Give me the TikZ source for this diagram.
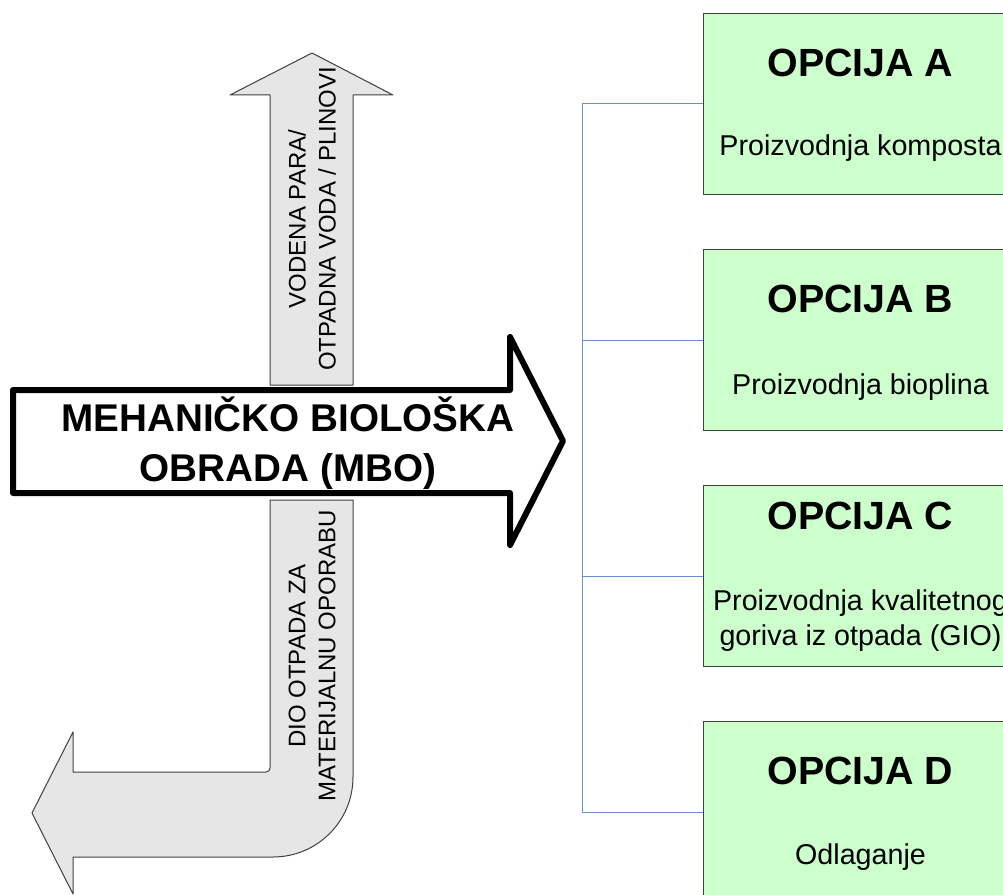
\documentclass[tikz,border=0pt]{standalone}
\usepackage{fontspec}
\setmainfont{Liberation Sans}
\usetikzlibrary{positioning}
\definecolor{boxgreen}{HTML}{CCFFCC}
\definecolor{arrowgray}{HTML}{E6E6E6}
\definecolor{linkblue}{HTML}{6A8FD2}

\tikzset{
  option/.style={draw=black!75, fill=boxgreen, line width=0.75pt, minimum width=235.5pt, minimum height=135.75pt, anchor=north west, inner sep=0pt},
  optitle/.style={font=\fontsize{29.5}{34}\selectfont\bfseries},
  optext/.style={font=\fontsize{21.5}{26.25}\selectfont, align=center},
  side/.style={draw=black!75, fill=arrowgray, line width=0.75pt, line join=round},
  sidetext/.style={font=\fontsize{18}{22.5}\selectfont, align=center, rotate=90},
  bus/.style={draw=linkblue, line width=0.75pt}
}

\begin{document}
\begin{tikzpicture}[x=0.75pt, y=-0.75pt]
\useasboundingbox (0,0) rectangle (1003,895);
% options on the right
\node[option] (optA) at (703,13) {};
\node[option] (optB) at (703,249) {};
\node[option] (optC) at (703,485) {};
\node[option] (optD) at (703,721) {};
\node[optitle] (titA) at ([yshift=31pt]optA.center) {OPCIJA A};
\node[optitle] (titB) at ([yshift=31pt]optB.center) {OPCIJA B};
\node[optitle] (titC) at ([yshift=45pt]optC.center) {OPCIJA C};
\node[optitle] (titD) at ([yshift=31pt]optD.center) {OPCIJA D};
\node[optext] (subA) at ([yshift=-33pt]optA.center) {Proizvodnja komposta};
\node[optext] (subB) at ([yshift=-35pt]optB.center) {Proizvodnja bioplina};
\node[optext] (subC) at ([yshift=-33.5pt]optC.center) {Proizvodnja kvalitetnog\\goriva iz otpada (GIO)};
\node[optext] (subD) at ([yshift=-34pt]optD.center) {Odlaganje};
\draw[bus] (optA.west) -- ++(-121,0) coordinate (busA) |- (optD.west);
\draw[bus] (optB.west) -- ++(-121,0);
\draw[bus] (optC.west) -- ++(-121,0);
% side streams
\draw[side] (270,385) -- (270,95) -- (230,95) -- (312,53) -- (393,95) -- (353,95) -- (353,385) -- cycle;
\node[sidetext] (gas) at (312,219) {VODENA PARA/\\OTPADNA VODA / PLINOVI};
\draw[side] (270,500) -- (353,500) [rounded corners=60pt] -- (353,857) [sharp corners] -- (73,857) -- (73,894) -- (32,813) -- (73,732) -- (73,772) [rounded corners=3pt] -- (270,772) [sharp corners] -- cycle;
\node[sidetext] (reuse) at (312,656) {DIO OTPADA ZA\\MATERIJALNU OPORABU};
% main arrow
\draw[line width=4.5pt, line join=round, fill=white] (13,390) -- (510,390) -- (510,337) -- (563,441) -- (510,545) -- (510,493) -- (13,493) -- cycle;
\node[font=\fontsize{29}{37.5}\selectfont\bfseries, align=center] (mbo) at (288,443) {MEHANIČKO BIOLOŠKA\\OBRADA (MBO)};
\end{tikzpicture}
\end{document}
